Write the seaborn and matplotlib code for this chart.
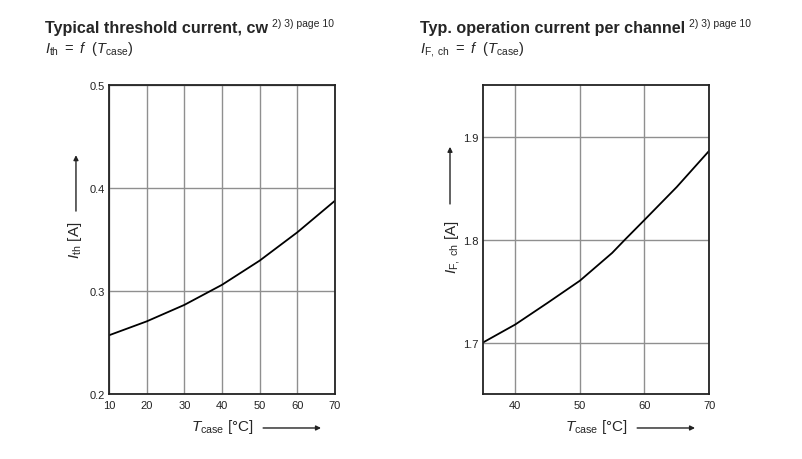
import matplotlib
matplotlib.use("Agg")
import matplotlib.pyplot as plt
import seaborn as sns
import pandas as pd

# Typical threshold current vs case temperature
t_th = [10, 20, 30, 40, 50, 60, 70]
i_th = [0.257, 0.2705, 0.2865, 0.306, 0.3295, 0.357, 0.3877]

# Typical operation current per channel vs case temperature
t_op = [35, 40, 45, 50, 55, 57, 60, 65, 70]
i_op = [1.700, 1.7175, 1.7385, 1.760, 1.787, 1.800, 1.819, 1.851, 1.886]

xt_left = [10, 20, 30, 40, 50, 60, 70]
yt_left = [0.2, 0.3, 0.4, 0.5]
xt_right = [40, 50, 60, 70]
yt_right = [1.7, 1.8, 1.9]

sns.set_style("white")
plt.rcParams['font.family'] = ['Liberation Sans', 'DejaVu Sans']
plt.rcParams['mathtext.fontset'] = 'custom'
plt.rcParams['mathtext.rm'] = 'Liberation Sans'
plt.rcParams['mathtext.it'] = 'Liberation Sans:italic'
plt.rcParams['mathtext.bf'] = 'Liberation Sans:bold'

fig = plt.figure(figsize=(8.03, 4.60), dpi=100)
ax1 = fig.add_axes([0.1357, 0.1413, 0.2815, 0.6717])
ax2 = fig.add_axes([0.6015, 0.1413, 0.2815, 0.6717])

df_th = pd.DataFrame({"T": t_th, "I": i_th})
df_op = pd.DataFrame({"T": t_op, "I": i_op})
sns.lineplot(data=df_th, x="T", y="I", ax=ax1, color="black", lw=1.3)
sns.lineplot(data=df_op, x="T", y="I", ax=ax2, color="black", lw=1.3)

arrow_kw = dict(arrowstyle="-|>", color="#222222", lw=1.0,
                mutation_scale=7, shrinkA=0, shrinkB=0)


def style_axes(ax, xlim, ylim, xt, yt, yfmt):
    ax.set_xlim(*xlim)
    ax.set_ylim(*ylim)
    ax.set_xticks(xt)
    ax.set_yticks(yt)
    ax.set_yticklabels([yfmt.format(v) for v in yt])
    ax.grid(True, color="#8f8f8f", lw=1.0)
    ax.set_axisbelow(True)
    for s in ax.spines.values():
        s.set_color("#222222")
        s.set_linewidth(1.3)
    ax.tick_params(axis="both", length=0, labelsize=8, colors="#222222")
    ax.tick_params(axis="x", pad=4)
    ax.tick_params(axis="y", pad=3)
    ax.set_xlabel(r"$\mathit{T}_{\mathrm{case}}$ [°C]", fontsize=11, labelpad=5)
    ax.set_ylabel("")
    # arrow next to the x label
    ax.annotate("", xy=(0.938, -0.11), xytext=(0.682, -0.11), xycoords="axes fraction",
                arrowprops=arrow_kw, annotation_clip=False)


style_axes(ax1, (10, 70), (0.2, 0.5), xt_left, yt_left, "{:.1f}")
style_axes(ax2, (35, 70), (1.65, 1.95), xt_right, yt_right, "{:.1f}")

# y labels with arrows
ax1.text(-0.150, 0.50, r"$\mathit{I}_{\mathrm{th}}$ [A]", transform=ax1.transAxes,
         rotation=90, ha="center", va="center", fontsize=11)
ax1.annotate("", xy=(-0.146, 0.773), xytext=(-0.146, 0.592), xycoords="axes fraction",
             arrowprops=arrow_kw, annotation_clip=False)
ax2.text(-0.133, 0.48, r"$\mathit{I}_{\mathrm{F,\ ch}}$ [A]", transform=ax2.transAxes,
         rotation=90, ha="center", va="center", fontsize=11)
ax2.annotate("", xy=(-0.146, 0.80), xytext=(-0.146, 0.615), xycoords="axes fraction",
             arrowprops=arrow_kw, annotation_clip=False)

# titles, with the footnote reference placed just after each title
renderer = fig.canvas.get_renderer()
W, H = 803, 460
for x0, title, sub in [
    (45, "Typical threshold current, cw",
     r"$\mathit{I}_{\mathrm{th}}\ =\ \mathit{f}\ \ (\mathit{T}_{\mathrm{case}})$"),
    (420, "Typ. operation current per channel",
     r"$\mathit{I}_{\mathrm{F,\ ch}}\ =\ \mathit{f}\ \ (\mathit{T}_{\mathrm{case}})$"),
]:
    t = fig.text(x0 / W, 1 - 33 / H, title, fontsize=11.6, fontweight="bold", va="baseline")
    x1 = t.get_window_extent(renderer).x1
    fig.text((x1 + 4) / W, 1 - 27 / H, "2) 3) page 10", fontsize=7.5, va="baseline")
    fig.text(x0 / W, 1 - 53 / H, sub, fontsize=10.5, va="baseline")

fig.savefig("out.png", dpi=100)
